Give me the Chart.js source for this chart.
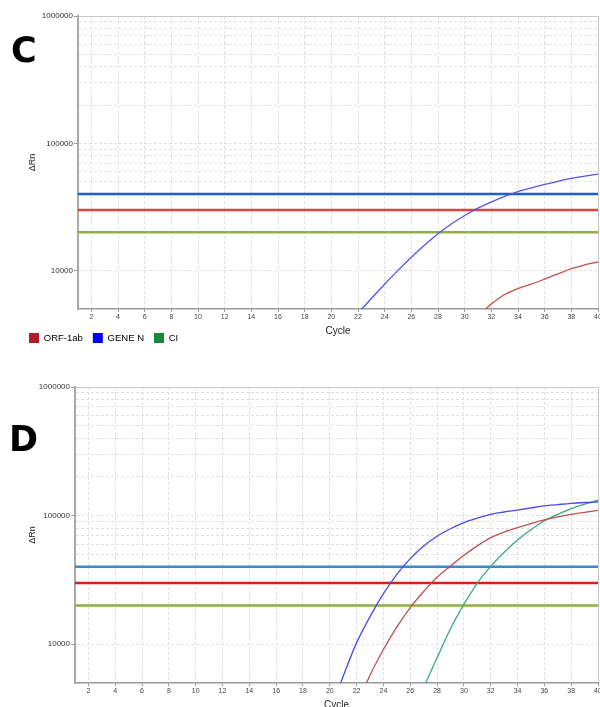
<!DOCTYPE html>
<html>
<head>
<meta charset="utf-8">
<script src="https://cdn.jsdelivr.net/npm/chart.js@4"></script>
<style>
  html, body { margin: 0; padding: 0; background: #fff; width: 600px; height: 707px; overflow: hidden; }
  .panel { position: absolute; left: 0; width: 600px; }
  #panel-c { top: 0; height: 353px; }
  #panel-d { top: 371px; height: 356px; }
  .letter { position: absolute; font-family: "DejaVu Sans", sans-serif; font-weight: bold; font-size: 36px; line-height: 1; color: #000; }
</style>
</head>
<body>
<div class="panel" id="panel-c"><canvas id="chart-c"></canvas></div>
<div class="panel" id="panel-d"><canvas id="chart-d"></canvas></div>
<div class="letter" style="left:11px; top:33px; font-size:35px">C</div>
<div class="letter" style="left:9px; top:422px; font-size:35px">D</div>

<script>
// cycles with a reading (earlier cycles sit under the 5000 floor)
var cycles = [20, 21, 22, 23, 24, 25, 26, 27, 28, 29, 30, 31, 32, 33, 34, 35, 36, 37, 38, 39, 40];

// panel C
var orfC   = [null, null, null, null, null, null, null, null, null, null, null, 4400, 5470, 6500, 7240, 7850, 8590, 9440, 10370, 11090, 11700];
var geneNC = [null, null, 4650, 6050, 7830, 10050, 12740, 15920, 19500, 23280, 27100, 30970, 34750, 38280, 41780, 44770, 47640, 50350, 52970, 55210, 57410];
var ciC    = [null, null, null, null, null, null, null, null, null, null, null, null, null, null, null, null, null, null, null, null, null];

// panel D
var orfD   = [null, null, 3300, 5750, 9100, 13650, 19300, 25700, 33200, 40500, 49200, 58200, 67400, 74500, 80700, 86700, 92500, 97700, 102300, 106200, 109900];
var geneND = [3000, 5640, 10300, 16400, 24800, 35000, 46300, 58100, 69200, 79100, 88300, 95700, 102300, 106700, 110500, 114800, 118900, 121900, 124700, 126500, 127700];
var ciD    = [null, null, null, null, null, null, 2450, 4570, 7850, 13200, 20400, 29900, 40300, 51900, 64600, 77600, 91200, 102300, 113500, 123000, 131800];

// thresholds: GENE N, ORF-1ab, CI
var thresholds = [40000, 30000, 20000];

var seriesNames = ['ORF-1ab', 'GENE N', 'CI'];
var cycleTicks = [2, 4, 6, 8, 10, 12, 14, 16, 18, 20, 22, 24, 26, 28, 30, 32, 34, 36, 38, 40];
var yTicks = [10000, 20000, 30000, 40000, 50000, 60000, 70000, 80000, 90000,
              100000, 200000, 300000, 400000, 500000, 600000, 700000, 800000, 900000, 1000000];
var yLabels = [10000, 100000, 1000000];

var legendColors = ['#b01c2c', '#0000ff', '#15883d'];

function buildChart(sel, series, curveColors, threshColors, axisWidth) {
    var ctx = document.querySelector(sel).getContext('2d');

    var datasets = series.map(function (vals, i) {
        return {
            label: seriesNames[i],
            data: cycles.map(function (c, j) { return { x: c, y: vals[j] }; }),
            borderColor: curveColors[i],
            borderWidth: 1.3,
            pointRadius: 0,
            fill: false,
            tension: 0.35
        };
    });

    thresholds.forEach(function (t, i) {
        datasets.push({
            label: '',
            data: [{ x: 1, y: t }, { x: 40, y: t }],
            borderColor: threshColors[i],
            borderWidth: 2.5,
            pointRadius: 0,
            fill: false
        });
    });

    return new Chart(ctx, {
        type: 'line',
        data: { datasets: datasets },
        options: {
            responsive: true,
            maintainAspectRatio: false,
            animation: false,
            layout: { padding: { left: 19, right: 2, top: 16, bottom: 0 } },
            plugins: {
                tooltip: { enabled: false },
                legend: {
                    position: 'bottom',
                    align: 'start',
                    labels: {
                        boxWidth: 10,
                        boxHeight: 10,
                        padding: 10,
                        color: '#555',
                        font: { family: 'Arial', size: 9.5 },
                        generateLabels: function () {
                            return seriesNames.map(function (n, i) {
                                return { text: n, fillStyle: legendColors[i], strokeStyle: legendColors[i],
                                         lineWidth: 0, hidden: false, datasetIndex: i };
                            });
                        }
                    }
                }
            },
            scales: {
                x: {
                    type: 'linear',
                    min: 1,
                    max: 40,
                    afterBuildTicks: function (s) {
                        s.ticks = cycleTicks.map(function (v) { return { value: v }; });
                    },
                    afterFit: function (s) { s.paddingLeft = 0; s.paddingRight = 0; },
                    ticks: { autoSkip: false, maxRotation: 0, padding: 1, color: '#444',
                             font: { family: 'Arial', size: 7 } },
                    grid: { color: function (c) { return c.tick && c.tick.value === 40 ? '#c8c8c8' : '#e0e0e0'; },
                            tickLength: 3, tickColor: '#999' },
                    border: { color: '#999', width: 1.5,
                              dash: function (c) { return c.tick && c.tick.value === 40 ? [] : [3, 2]; } },
                    title: { display: true, text: 'Cycle', color: '#222',
                             font: { family: 'Arial', size: 10 }, padding: { top: 2.6, bottom: -14 } }
                },
                y: {
                    type: 'logarithmic',
                    min: 5000,
                    max: 1000000,
                    afterBuildTicks: function (s) {
                        s.ticks = yTicks.map(function (v) { return { value: v }; });
                    },
                    afterFit: function (s) { s.width = axisWidth; s.paddingTop = 0; s.paddingBottom = 0; },
                    ticks: {
                        autoSkip: false,
                        padding: 1,
                        color: '#333',
                        font: { family: 'Arial', size: 8 },
                        callback: function (v) { return yLabels.indexOf(v) >= 0 ? String(v) : ''; }
                    },
                    grid: {
                        color: function (c) { return c.tick && c.tick.value === 1000000 ? '#c8c8c8' : '#e0e0e0'; },
                        tickLength: 4,
                        tickColor: function (c) { return c.tick && yLabels.indexOf(c.tick.value) >= 0 ? '#999' : 'rgba(0,0,0,0)'; }
                    },
                    border: { color: '#aaa', width: 2,
                              dash: function (c) { return c.tick && c.tick.value === 1000000 ? [] : [3, 2]; } },
                    title: { display: true, text: 'ΔRn', color: '#222',
                             font: { family: 'Arial', size: 9 }, padding: { top: 8, bottom: 0 } }
                }
            }
        }
    });
}

var chartC = buildChart('#chart-c', [orfC, geneNC, ciC],
    ['#c05050', '#5555ee', '#3aaa78'],
    ['#1a62c4', '#e04040', '#8db23c'], 59);

var chartD = buildChart('#chart-d', [orfD, geneND, ciD],
    ['#c05050', '#4a4aee', '#3aaa78'],
    ['#3a88d2', '#d42020', '#8db23c'], 56);
</script>
</body>
</html>
